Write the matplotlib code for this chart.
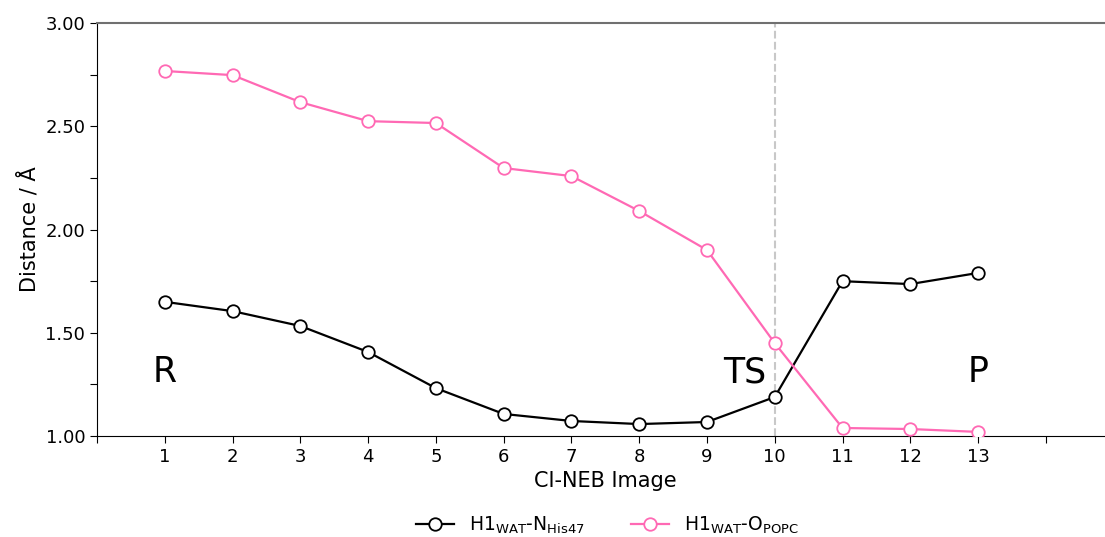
import numpy as np
import matplotlib
matplotlib.use("Agg")
import matplotlib.pyplot as plt

plt.rcParams["mathtext.default"] = "regular"

images = list(range(1, 14))
d_his47 = [1.65, 1.605, 1.533, 1.407, 1.232, 1.107, 1.073, 1.058, 1.068, 1.189, 1.75, 1.736, 1.79]
d_popc = [2.768, 2.748, 2.617, 2.525, 2.516, 2.298, 2.259, 2.09, 1.901, 1.45, 1.039, 1.034, 1.02]
ts_image = 10
state_labels = ["R", "TS", "P"]
state_x = [1, 9.55, 13]
state_y = 1.31

fig = plt.figure(figsize=(11.05, 5.37), dpi=100)
ax = fig.add_axes([0.0878, 0.188, 0.92, 0.769])

ax.axvline(ts_image, color="#c8c8c8", linestyle="--", linewidth=1.5, zorder=1)
ax.plot(images, d_his47, color="black", marker="o", markersize=9, markerfacecolor="white",
        markeredgewidth=1.3, linewidth=1.6, label=r"H1$_{WAT}$-N$_{His47}$", zorder=3)
ax.plot(images, d_popc, color="#ff69b4", marker="o", markersize=9, markerfacecolor="white",
        markeredgewidth=1.3, linewidth=1.6, label=r"H1$_{WAT}$-O$_{POPC}$", zorder=3)

for lab, x in zip(state_labels, state_x):
    ax.text(x, state_y, lab, fontsize=25, ha="center", va="center")

ax.set_xlim(0, 15)
ax.set_xticks(range(0, 15))
ax.set_xticklabels([""] + [str(i) for i in images] + [""])
ax.set_ylim(1.0, 3.0)
yt = np.arange(1.0, 3.01, 0.25)
ax.set_yticks(yt)
ax.set_yticklabels(["%.2f" % v if i % 2 == 0 else "" for i, v in enumerate(yt)])
ax.tick_params(labelsize=13, length=5)

ax.spines["right"].set_visible(False)
ax.spines["top"].set_color("#707070")
ax.spines["top"].set_linewidth(1.5)

ax.set_xlabel("CI-NEB Image", fontsize=15)
ax.set_ylabel("Distance / Å", fontsize=15)

fig.legend(loc="lower center", bbox_to_anchor=(0.55, -0.03), ncol=2, frameon=False,
           fontsize=13.5, columnspacing=2.5)

fig.savefig("out.png", dpi=100)
